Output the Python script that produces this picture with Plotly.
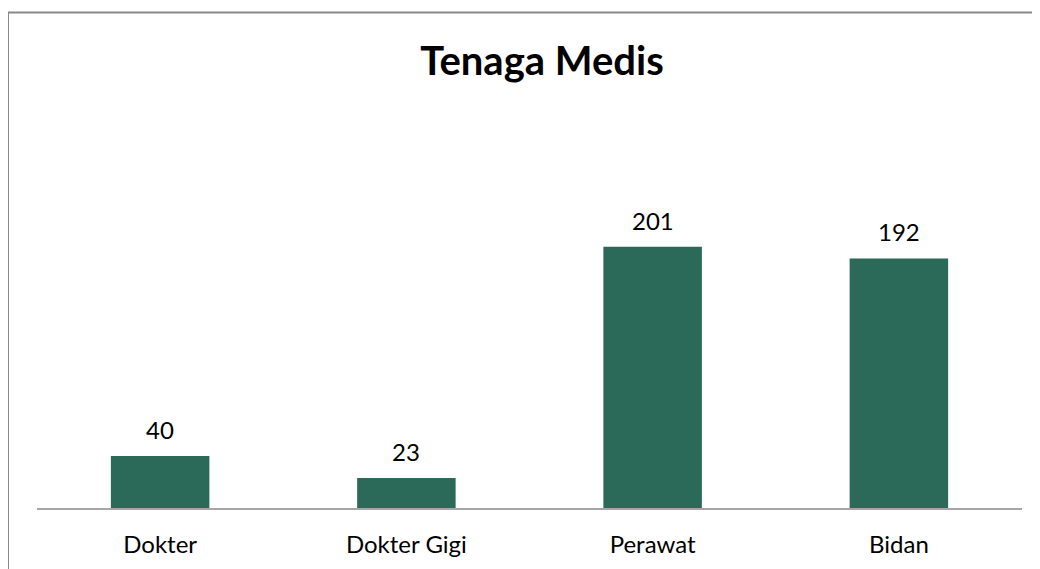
import plotly.graph_objects as go

categories = ["Dokter", "Dokter Gigi", "Perawat", "Bidan"]
values = [40, 23, 201, 192]

W, H = 1040, 569
ml, mr, mt, mb = 29, 26, 175, 69
pw, ph = W - ml - mr, H - mt - mb
FONT = "Lato, Carlito, Calibri, sans-serif"

fig = go.Figure(go.Bar(
    x=categories, y=values, width=0.4,
    marker=dict(color="#2B6A58", line=dict(width=0)),
    cliponaxis=False, hoverinfo="skip",
))

for c, v in zip(categories, values):
    fig.add_annotation(x=c, y=v, text=str(v), showarrow=False,
                       yanchor="bottom", yshift=10,
                       font=dict(size=24, color="#000000", family=FONT))

def px_to_paper_x(px):
    return (px - ml) / pw

def px_to_paper_y(py):
    return (H - mb - py) / ph

fig.add_shape(type="rect", xref="paper", yref="paper",
              x0=px_to_paper_x(0), x1=px_to_paper_x(1080),
              y0=px_to_paper_y(620), y1=px_to_paper_y(4.5),
              line=dict(color="#898989", width=2), layer="below")

fig.update_layout(
    width=W, height=H,
    margin=dict(l=ml, r=mr, t=mt, b=mb),
    paper_bgcolor="white", plot_bgcolor="white",
    title=dict(text="<b>Tenaga Medis</b>", x=534 / W, xanchor="center",
               y=1 - 53 / H, yanchor="middle",
               font=dict(size=40, color="#000000", family=FONT)),
    xaxis=dict(showline=True, linecolor="#A6A6A6", linewidth=1.5,
               tickfont=dict(size=24, color="#000000", family=FONT),
               ticks="", ticklabelstandoff=14, showgrid=False, fixedrange=True),
    yaxis=dict(range=[0, 250], visible=False, showgrid=False, fixedrange=True),
    showlegend=False,
)

fig.write_html("out.html")
